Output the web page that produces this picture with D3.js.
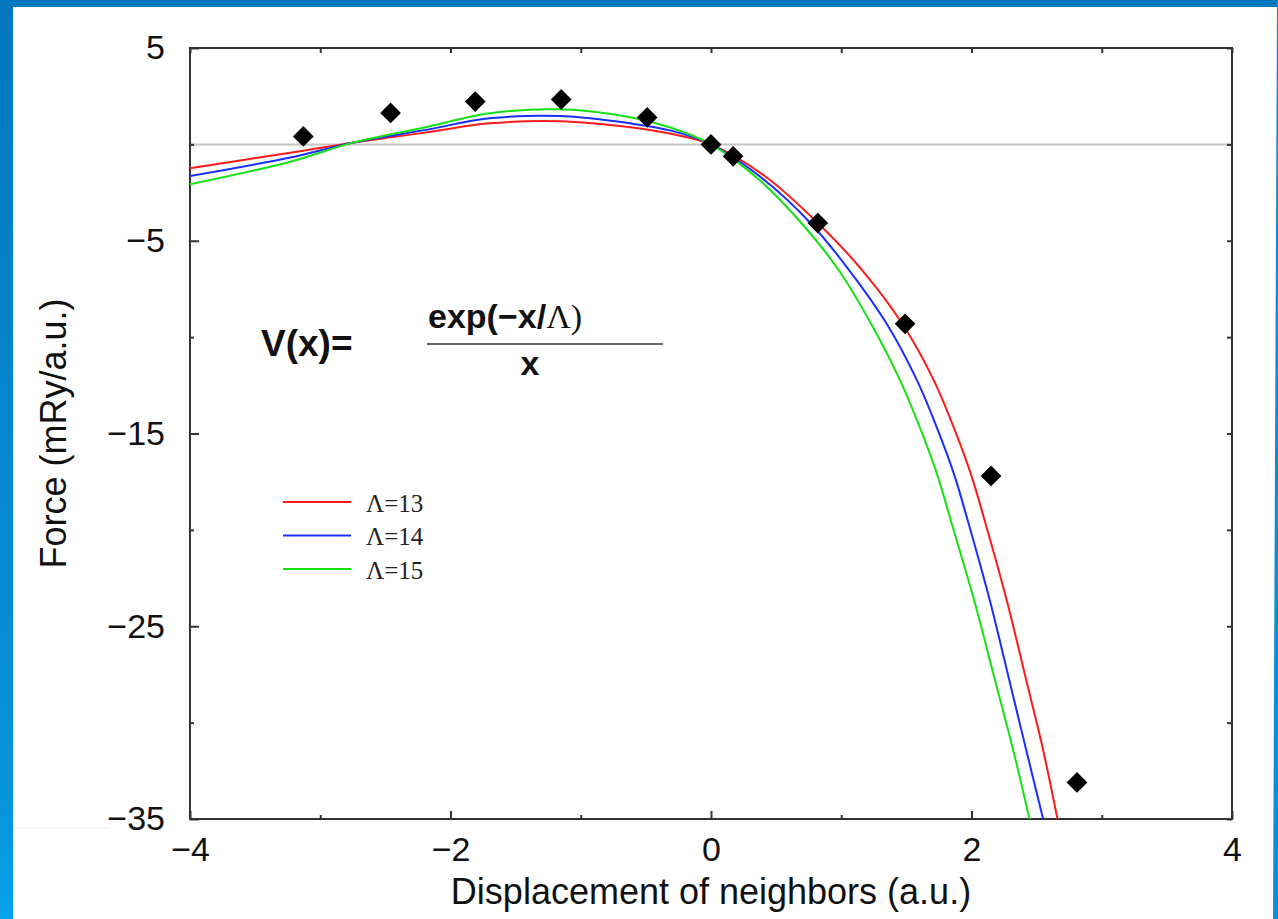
<!DOCTYPE html>
<html>
<head>
<meta charset="utf-8">
<script src="https://cdn.jsdelivr.net/npm/d3@7"></script>
<style>
  body { margin: 0; background: #fff; }
  svg { display: block; }
  .axis text { font-family: "Liberation Sans", Arial, sans-serif; font-size: 34px; fill: #111; }
  .axis line { stroke: #333; stroke-width: 2; }
</style>
</head>
<body>
<div id="chart"></div>
<script>
// measured points (diamonds)
var pointX = [-3.13, -2.46, -1.81, -1.15, -0.49, 0, 0.17, 0.82, 1.49, 2.15, 2.81]
var pointY = [0.41, 1.63, 2.22, 2.33, 1.40, 0, -0.62, -4.08, -9.31, -17.2, -33.1]

// fitted curves
var lambda13 = [[-4.00, -1.24], [-3.23, -0.43], [-2.75, 0.09], [-2.20, 0.61], [-1.70, 1.09], [-1.16, 1.20],
  [-0.62, 0.89], [-0.30, 0.54], [0, 0], [0.42, -1.68], [0.82, -4.08], [1.16, -6.52], [1.47, -9.32],
  [1.71, -12.23], [1.88, -14.97], [2.00, -17.20], [2.10, -19.49], [2.27, -23.64], [2.42, -27.79],
  [2.55, -31.42], [2.66, -35.0]]
var lambda14 = [[-4.00, -1.64], [-3.23, -0.68], [-2.75, 0.09], [-2.20, 0.74], [-1.70, 1.35], [-1.16, 1.47],
  [-0.62, 1.09], [-0.30, 0.70], [0, 0], [0.40, -1.80], [0.77, -4.13], [1.06, -6.52], [1.35, -9.32],
  [1.58, -12.22], [1.75, -14.97], [1.87, -17.20], [1.97, -19.49], [2.14, -23.64], [2.29, -27.79],
  [2.42, -31.42], [2.55, -35.0]]
var lambda15 = [[-4.00, -2.07], [-3.23, -0.90], [-2.75, 0.09], [-2.20, 0.88], [-1.70, 1.61], [-1.16, 1.82],
  [-0.62, 1.41], [-0.30, 0.85], [0, 0], [0.38, -1.90], [0.70, -4.13], [0.98, -6.52], [1.23, -9.32],
  [1.45, -12.22], [1.62, -14.97], [1.74, -17.20], [1.84, -19.49], [2.02, -23.64], [2.18, -27.79],
  [2.32, -31.42], [2.445, -35.0]]

var seriesNames = ["\u039B=13", "\u039B=14", "\u039B=15"]
var seriesColors = ["#ff1a1a", "#1a2eff", "#16e016"]

var xMajorTicks = [-4, -2, 0, 2, 4]
var xMinorTicks = [-3, -1, 1, 3]
var yMajorTicks = [5, -5, -15, -25, -35]
var yMinorTicks = [0, -10, -20, -30]

function drawChart() {
  var dimensions = {
    width: 1278,
    height: 919,
    margin: { top: 48, right: 46, bottom: 100, left: 190 },
  }
  dimensions.boundedWidth = dimensions.width - dimensions.margin.left - dimensions.margin.right
  dimensions.boundedHeight = dimensions.height - dimensions.margin.top - dimensions.margin.bottom

  var wrapper = d3.select("#chart")
    .append("svg")
    .attr("width", dimensions.width)
    .attr("height", dimensions.height)

  // blue slide frame
  var grad = wrapper.append("defs").append("linearGradient")
    .attr("id", "sideGrad")
    .attr("x1", 0).attr("y1", 0).attr("x2", 0).attr("y2", 1)
  grad.append("stop").attr("offset", "0%").attr("stop-color", "#0277bd")
  grad.append("stop").attr("offset", "88%").attr("stop-color", "#0894da")
  grad.append("stop").attr("offset", "100%").attr("stop-color", "#08a2ec")

  wrapper.append("rect")
    .attr("x", 0).attr("y", 0)
    .attr("width", dimensions.width).attr("height", 7)
    .attr("fill", "#0277bd")
  wrapper.append("rect")
    .attr("x", 0).attr("y", 0)
    .attr("width", 13).attr("height", dimensions.height)
    .attr("fill", "url(#sideGrad)")
  wrapper.append("path")
    .attr("d", "M1277,0 L1278,0 L1278,919 L1273,919 Z")
    .attr("fill", "#0a8ed6")
  wrapper.append("line")
    .attr("x1", 13).attr("x2", 110)
    .attr("y1", 828).attr("y2", 828)
    .attr("stroke", "#f0f0f0")

  var bounds = wrapper.append("g")
    .attr("transform", `translate(${dimensions.margin.left},${dimensions.margin.top})`)

  var xScale = d3.scaleLinear()
    .domain([-4, 4])
    .range([0, dimensions.boundedWidth])

  var yScale = d3.scaleLinear()
    .domain([-35, 5])
    .range([dimensions.boundedHeight, 0])

  // zero line
  bounds.append("line")
    .attr("x1", 0).attr("x2", dimensions.boundedWidth)
    .attr("y1", yScale(0)).attr("y2", yScale(0))
    .attr("stroke", "#c4c4c4")
    .attr("stroke-width", 2)

  // axes, ticks pointing inward
  bounds.append("g")
    .attr("class", "x axis")
    .attr("transform", `translate(0,${dimensions.boundedHeight})`)
    .call(d3.axisBottom(xScale).tickValues(xMajorTicks).tickSize(-8).tickPadding(18))
    .call(g => g.select(".domain").remove())
  bounds.append("g")
    .attr("class", "x axis")
    .attr("transform", `translate(0,${dimensions.boundedHeight})`)
    .call(d3.axisBottom(xScale).tickValues(xMinorTicks).tickSize(-4).tickFormat(""))
    .call(g => g.select(".domain").remove())
  bounds.append("g")
    .attr("class", "x axis")
    .call(d3.axisTop(xScale).tickValues(xMajorTicks.concat(xMinorTicks)).tickSize(-5).tickFormat(""))
    .call(g => g.select(".domain").remove())

  bounds.append("g")
    .attr("class", "y axis")
    .call(d3.axisLeft(yScale).tickValues(yMajorTicks).tickSize(-9).tickPadding(25))
    .call(g => g.select(".domain").remove())
  bounds.append("g")
    .attr("class", "y axis")
    .call(d3.axisLeft(yScale).tickValues(yMinorTicks).tickSize(-4).tickFormat(""))
    .call(g => g.select(".domain").remove())
  bounds.append("g")
    .attr("class", "y axis")
    .attr("transform", `translate(${dimensions.boundedWidth},0)`)
    .call(d3.axisRight(yScale).tickValues(yMajorTicks.concat(yMinorTicks)).tickSize(-5).tickFormat(""))
    .call(g => g.select(".domain").remove())

  // frame
  bounds.append("rect")
    .attr("width", dimensions.boundedWidth)
    .attr("height", dimensions.boundedHeight)
    .attr("fill", "none")
    .attr("stroke", "#333")
    .attr("stroke-width", 2)

  // curves
  var lineGenerator = d3.line()
    .x(d => xScale(d[0]))
    .y(d => yScale(d[1]))
    .curve(d3.curveCatmullRom.alpha(0.5))

  var curves = [lambda13, lambda14, lambda15]
  bounds.selectAll(".fit")
    .data(curves).enter()
    .append("path")
    .attr("class", "fit")
    .attr("d", lineGenerator)
    .attr("fill", "none")
    .attr("stroke", (d, i) => seriesColors[i])
    .attr("stroke-width", 2)

  // diamonds
  var diamond = d3.symbol().type(d3.symbolSquare).size(215)
  bounds.selectAll(".node")
    .data(pointX).enter()
    .append("path")
    .attr("class", "node")
    .attr("d", diamond)
    .attr("transform", (d, i) => `translate(${xScale(d)},${yScale(pointY[i])}) rotate(45)`)
    .attr("fill", "#000")

  // legend
  var legend = bounds.selectAll(".legend")
    .data(seriesNames).enter()
    .append("g")
    .attr("class", "legend")
    .attr("transform", (d, i) => `translate(93,${454 + i * 33.5})`)
  legend.append("line")
    .attr("x1", 0).attr("x2", 68)
    .attr("stroke", (d, i) => seriesColors[i])
    .attr("stroke-width", 2)
  legend.append("text")
    .attr("x", 83).attr("y", 9.5)
    .style("font-family", "'Liberation Serif', 'Times New Roman', serif")
    .style("font-size", "25px")
    .style("fill", "#222")
    .text(d => d)

  // formula
  var formula = bounds.append("g")
    .style("font-family", "'Liberation Sans', Arial, sans-serif")
    .style("font-weight", "bold")
    .style("font-size", "34px")
    .style("fill", "#111")
  formula.append("text")
    .attr("x", 71).attr("y", 308)
    .style("font-size", "37px")
    .text("V(x)=")
  var numerator = formula.append("text")
    .attr("x", 238).attr("y", 280)
  numerator.append("tspan").text("exp(\u2212x/")
  numerator.append("tspan")
    .style("font-family", "'Liberation Serif', 'Times New Roman', serif")
    .style("font-weight", "normal")
    .text("\u039B)")
  formula.append("line")
    .attr("x1", 237).attr("x2", 473)
    .attr("y1", 296).attr("y2", 296)
    .attr("stroke", "#333")
    .attr("stroke-width", 1.5)
  formula.append("text")
    .attr("x", 340).attr("y", 327)
    .attr("text-anchor", "middle")
    .text("x")

  // axis titles
  wrapper.append("text")
    .attr("x", dimensions.margin.left + dimensions.boundedWidth / 2)
    .attr("y", 904)
    .attr("text-anchor", "middle")
    .style("font-family", "'Liberation Sans', Arial, sans-serif")
    .style("font-size", "36px")
    .style("fill", "#111")
    .text("Displacement of neighbors (a.u.)")

  wrapper.append("text")
    .attr("transform", `translate(66,${dimensions.margin.top + dimensions.boundedHeight / 2}) rotate(-90)`)
    .attr("text-anchor", "middle")
    .style("font-family", "'Liberation Sans', Arial, sans-serif")
    .style("font-size", "36px")
    .style("fill", "#111")
    .text("Force (mRy/a.u.)")
}
drawChart();
</script>
</body>
</html>
